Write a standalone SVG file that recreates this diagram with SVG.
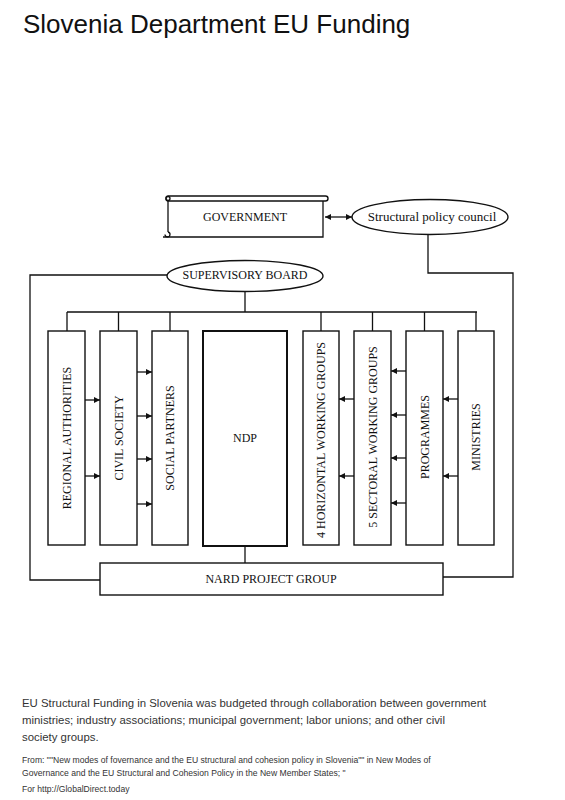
<svg xmlns="http://www.w3.org/2000/svg" width="565" height="800" viewBox="0 0 565 800">
<defs>
<style>
.ln{fill:none;stroke:#111;stroke-width:1.3}
.bx{fill:#fff;stroke:#111;stroke-width:1.4}
.lb{font-family:"Liberation Serif","Times New Roman",serif;font-size:12px;fill:#111;text-anchor:middle;dominant-baseline:central}
.cap{font-family:"Liberation Sans",Arial,sans-serif;font-size:11.4px;fill:#333}
.ft{font-family:"Liberation Sans",Arial,sans-serif;font-size:8.6px;fill:#333}
</style>
<marker id="ah" viewBox="0 0 10 10" refX="10" refY="5" markerWidth="7" markerHeight="6" markerUnits="userSpaceOnUse" orient="auto-start-reverse">
<path d="M0,0 L10,5 L0,10 Z" fill="#111"/>
</marker>
</defs>
<rect width="565" height="800" fill="#fff"/>
<text x="23" y="33" style="font-family:'Liberation Sans',Arial,sans-serif;font-size:26px;fill:#111">Slovenia Department EU Funding</text>

<g id="connectors">
<path class="ln" d="M325,217 H352" marker-start="url(#ah)" marker-end="url(#ah)"/>
<path class="ln" d="M428,235 V273 H513 V577 H443"/>
<path class="ln" d="M167,275 H30 V580 H100"/>
<path class="ln" d="M245,291 V312 M67,312 H477 M67,312 V331 M118.5,312 V331 M170,312 V331 M321,312 V331 M372.5,312 V331 M424.5,312 V331 M476,312 V331"/>
<path class="ln" d="M245,546 V563"/>
<g marker-end="url(#ah)">
<path class="ln" d="M85,400 H100"/>
<path class="ln" d="M85,476 H100"/>
<path class="ln" d="M137,372 H152"/>
<path class="ln" d="M137,416 H152"/>
<path class="ln" d="M137,459 H152"/>
<path class="ln" d="M137,504 H152"/>
<path class="ln" d="M354,399 H339"/>
<path class="ln" d="M354,476 H339"/>
<path class="ln" d="M406,371 H391"/>
<path class="ln" d="M406,415 H391"/>
<path class="ln" d="M406,458 H391"/>
<path class="ln" d="M406,503 H391"/>
<path class="ln" d="M458,399 H443"/>
<path class="ln" d="M458,476 H443"/>
</g>
</g>

<g id="government">
<path class="ln" d="M168,201 V232 M163,237 H323 V201"/>
<rect x="166" y="196" width="162" height="5" rx="2.5" class="bx"/>
<circle cx="168" cy="198.5" r="2" class="ln"/>
<path class="ln" d="M168,232 A2.5,2.5 0 1 1 165,234.5"/>
<text x="245" y="217" class="lb">GOVERNMENT</text>
</g>

<g id="spc">
<ellipse cx="430" cy="217" rx="78" ry="17.5" class="bx"/>
<text x="432" y="216" class="lb" style="font-size:13px">Structural policy council</text>
</g>

<g id="supervisory">
<ellipse cx="245" cy="276" rx="78" ry="15.5" class="bx"/>
<text x="245" y="275" class="lb">SUPERVISORY BOARD</text>
</g>

<g id="regional">
<rect x="48" y="331" width="37" height="214" class="bx"/>
<text class="lb" transform="translate(66.5,438) rotate(-90)">REGIONAL AUTHORITIES</text>
</g>
<g id="civil">
<rect x="100" y="331" width="37" height="214" class="bx"/>
<text class="lb" transform="translate(118.5,438) rotate(-90)">CIVIL SOCIETY</text>
</g>
<g id="social">
<rect x="152" y="331" width="36" height="214" class="bx"/>
<text class="lb" transform="translate(170,438) rotate(-90)">SOCIAL PARTNERS</text>
</g>
<g id="ndp">
<rect x="203" y="331" width="84" height="215" fill="#fff" stroke="#111" stroke-width="2"/>
<text x="245" y="438" class="lb">NDP</text>
</g>
<g id="horizontal">
<rect x="303" y="331" width="36" height="214" class="bx"/>
<text class="lb" transform="translate(321,440) rotate(-90)">4 HORIZONTAL WORKING GROUPS</text>
</g>
<g id="sectoral">
<rect x="354" y="331" width="37" height="214" class="bx"/>
<text class="lb" transform="translate(372.5,437) rotate(-90)">5 SECTORAL WORKING GROUPS</text>
</g>
<g id="programmes">
<rect x="406" y="331" width="37" height="214" class="bx"/>
<text class="lb" transform="translate(424.5,437) rotate(-90)">PROGRAMMES</text>
</g>
<g id="ministries">
<rect x="458" y="331" width="36" height="214" class="bx"/>
<text class="lb" transform="translate(476,437) rotate(-90)">MINISTRIES</text>
</g>

<g id="nard">
<rect x="100" y="563" width="343" height="32" class="bx"/>
<text x="271" y="579" class="lb">NARD PROJECT GROUP</text>
</g>

<text class="cap" x="22" y="707">EU Structural Funding in Slovenia was budgeted through collaboration between government</text>
<text class="cap" x="22" y="724">ministries; industry associations; municipal government; labor unions; and other civil</text>
<text class="cap" x="22" y="741">society groups.</text>
<text class="ft" x="22" y="763">From: ""New modes of fovernance and the EU structural and cohesion policy in Slovenia"" in New Modes of</text>
<text class="ft" x="22" y="776">Governance and the EU Structural and Cohesion Policy in the New Member States;  "</text>
<text class="ft" x="22" y="792">For http://GlobalDirect.today</text>
</svg>
